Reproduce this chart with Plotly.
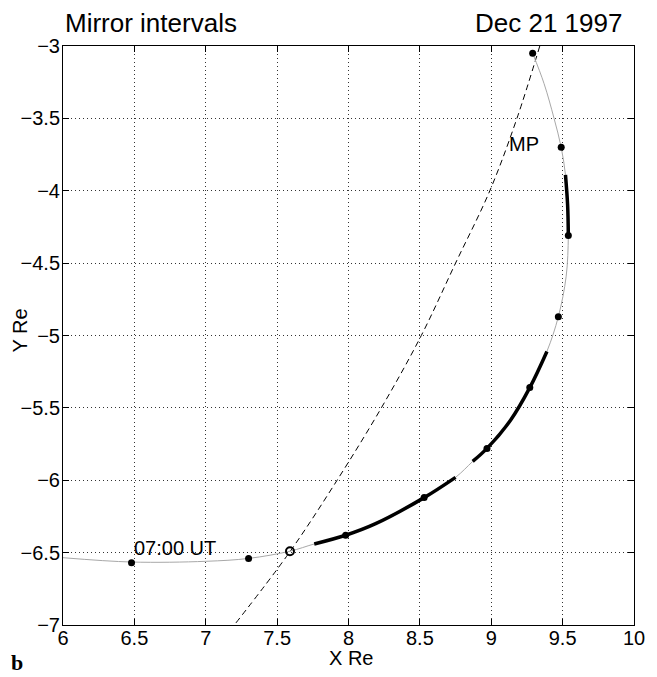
import plotly.graph_objects as go

# ---- data (Re) ----
orbit_x = [6.00, 6.48, 7.00, 7.30, 7.59, 7.76, 7.98, 8.19, 8.53, 8.75, 8.87, 8.97,
           9.135, 9.27, 9.39, 9.47, 9.525, 9.54, 9.535, 9.52, 9.49, 9.44, 9.37, 9.29]
orbit_y = [-6.535, -6.565, -6.56, -6.54, -6.49, -6.44, -6.38, -6.30, -6.12, -5.98, -5.87, -5.78,
           -5.585, -5.36, -5.11, -4.87, -4.59, -4.31, -4.10, -3.89, -3.70, -3.50, -3.26, -3.05]

mirror1_x = [7.76, 7.98, 8.19, 8.53, 8.75]
mirror1_y = [-6.44, -6.38, -6.30, -6.12, -5.98]
mirror2_x = [8.87, 8.97, 9.135, 9.27, 9.39]
mirror2_y = [-5.87, -5.78, -5.585, -5.36, -5.11]
mirror3_x = [9.52, 9.535, 9.54]
mirror3_y = [-3.89, -4.10, -4.31]

hour_x = [6.48, 7.30, 7.98, 8.53, 8.97, 9.27, 9.47, 9.54, 9.49, 9.29]
hour_y = [-6.57, -6.54, -6.38, -6.12, -5.78, -5.36, -4.87, -4.31, -3.70, -3.05]

mp_cross_x = [7.59]
mp_cross_y = [-6.49]

mp_x = [9.34, 9.18, 8.99, 8.75, 8.51, 8.23, 7.92, 7.585, 7.20]
mp_y = [-3.0, -3.5, -4.0, -4.5, -5.0, -5.5, -6.0, -6.5, -7.0]

x_ticks = [6, 6.5, 7, 7.5, 8, 8.5, 9, 9.5, 10]
y_ticks = [-7, -6.5, -6, -5.5, -5, -4.5, -4, -3.5, -3]

FONT = "Liberation Sans, Arial, Helvetica, sans-serif"

fig = go.Figure()

fig.add_trace(go.Scatter(x=mp_x, y=mp_y, mode="lines",
                         line=dict(color="black", width=1, dash="6px,4px", shape="spline"),
                         hoverinfo="skip"))
fig.add_trace(go.Scatter(x=orbit_x, y=orbit_y, mode="lines",
                         line=dict(color="#a8a8a8", width=1, shape="spline"),
                         hoverinfo="skip"))
for mx, my in [(mirror1_x, mirror1_y), (mirror2_x, mirror2_y), (mirror3_x, mirror3_y)]:
    fig.add_trace(go.Scatter(x=mx, y=my, mode="lines",
                             line=dict(color="black", width=3.5, shape="spline"),
                             hoverinfo="skip"))
fig.add_trace(go.Scatter(x=hour_x, y=hour_y, mode="markers",
                         marker=dict(color="black", size=7, symbol="circle"),
                         hoverinfo="skip"))
fig.add_trace(go.Scatter(x=mp_cross_x, y=mp_cross_y, mode="markers",
                         marker=dict(color="black", size=8, symbol="circle-open",
                                     line=dict(width=2)),
                         hoverinfo="skip"))

axis_common = dict(
    showline=True, linecolor="black", linewidth=1, mirror="ticks",
    ticks="inside", ticklen=6, tickcolor="black", tickwidth=1,
    showgrid=True, gridcolor="#333333", gridwidth=1, griddash="1px,3px",
    zeroline=False, tickfont=dict(family=FONT, size=20, color="black"),
)

fig.update_xaxes(range=[6, 10], tickvals=x_ticks,
                 ticktext=[f"{v:g}" for v in x_ticks], ticklabelstandoff=-5,
                 **axis_common)
fig.update_yaxes(range=[-7, -3], tickvals=y_ticks,
                 ticktext=[f"\u2212{abs(v):g}" for v in y_ticks], ticklabelstandoff=-2,
                 **axis_common)

ann_font = dict(family=FONT, size=20, color="black")
annotations = [
    dict(text="Mirror intervals", xref="paper", yref="paper", x=0.0, y=1.039,
         xanchor="left", yanchor="middle", showarrow=False,
         font=dict(family=FONT, size=26, color="black")),
    dict(text="Dec 21 1997", xref="paper", yref="paper", x=0.983, y=1.039,
         xanchor="right", yanchor="middle", showarrow=False,
         font=dict(family=FONT, size=26, color="black")),
    dict(text="Y Re", xref="paper", yref="paper", x=-0.076, y=0.508,
         xanchor="center", yanchor="middle", textangle=-90, showarrow=False,
         font=ann_font),
    dict(text="X Re", xref="paper", yref="paper", x=0.505, y=-0.057,
         xanchor="center", yanchor="middle", showarrow=False, font=ann_font),
    dict(text="07:00 UT", xref="x", yref="y", x=6.48, y=-6.47,
         xanchor="left", yanchor="middle", showarrow=False, font=ann_font),
    dict(text="MP", xref="x", yref="y", x=9.11, y=-3.68,
         xanchor="left", yanchor="middle", showarrow=False, font=ann_font),
    dict(text="<b>b</b>", xref="paper", yref="paper", x=-0.095, y=-0.064,
         xanchor="left", yanchor="middle", showarrow=False,
         font=dict(family="Liberation Serif, Times New Roman, serif", size=22, color="black")),
]

# the page body adds an 8 px margin, so the figure is sized to fill the rest of the window
fig.update_layout(
    width=649, height=669,
    margin=dict(l=55, r=16, t=38, b=52),
    paper_bgcolor="white", plot_bgcolor="white",
    showlegend=False,
    annotations=annotations,
)

fig.write_html("out.html")
